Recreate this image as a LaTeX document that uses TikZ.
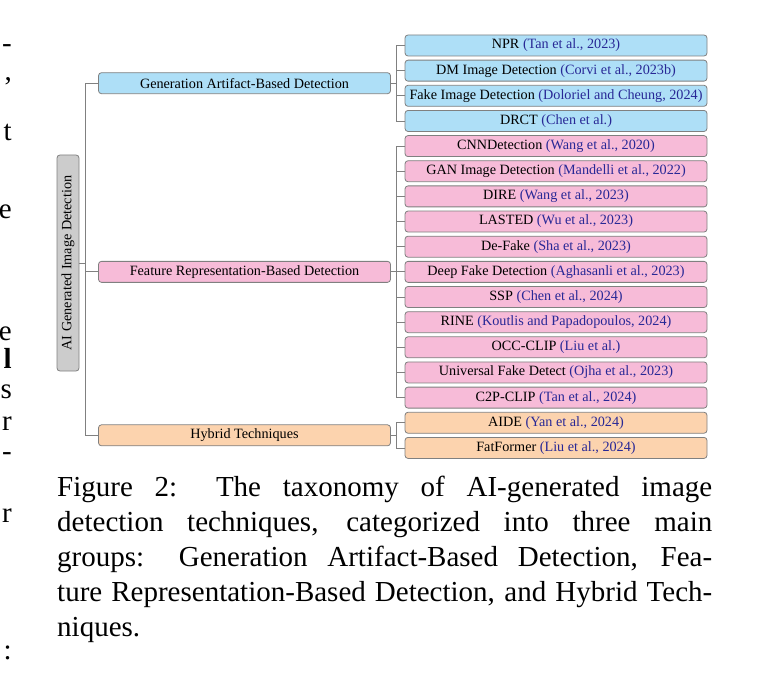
\documentclass[tikz,border=0pt]{standalone}
\usepackage{fontspec}
\setmainfont{Liberation Serif}
\usetikzlibrary{positioning}

\definecolor{catblue}{RGB}{174,223,247}
\definecolor{catpink}{RGB}{247,187,216}
\definecolor{catorange}{RGB}{252,211,174}
\definecolor{rootgray}{RGB}{204,204,204}
\definecolor{bordergray}{RGB}{128,128,128}
\definecolor{citeblue}{RGB}{40,40,150}

\newcommand{\refcite}[1]{\textcolor{citeblue}{(#1)}}

\begin{document}
\begin{tikzpicture}[x=1pt, y=-1pt,
    box/.style={draw=bordergray, line width=0.8pt, rounded corners=3pt, minimum height=21pt,
        inner xsep=1pt, inner ysep=0pt, font=\rmfamily\fontsize{14.2}{17}\selectfont},
    branch/.style={box, minimum width=292pt},
    leaf/.style={box, minimum width=302pt},
    link/.style={draw=bordergray, line width=0.8pt},
    bigtext/.style={inner sep=0pt, font=\rmfamily\fontsize{29}{35}\selectfont}]
\useasboundingbox (0,0) rectangle (767,676);

% neighbouring column, cut off at the left edge
\foreach \ch/\yy [count=\k] in {-/50, {,}/78, t/138, e/216, e/338, \textbf{l}/366,
        s/396, r/428, -/458, r/520, :/657}
    \node[bigtext, anchor=mid east] (frag\k) at (12,\yy) {\ch};

% root and the three groups
\node[box, fill=rootgray, rotate=90, minimum width=216pt, minimum height=22pt] (root) at (68,263) {AI Generated Image Detection};
\node[branch, fill=catblue] (gen) at (244.5,83.2) {Generation Artifact-Based Detection};
\node[branch, fill=catpink] (feat) at (244.5,271.85) {Feature Representation-Based Detection};
\node[branch, fill=catorange] (hyb) at (244.5,435.3) {Hybrid Techniques};

% methods
\foreach \name/\lbl/\col [count=\i] in {
        npr/{NPR \refcite{Tan et al., 2023}}/catblue,
        dm/{DM Image Detection \refcite{Corvi et al., 2023b}}/catblue,
        fake/{Fake Image Detection \refcite{Doloriel and Cheung, 2024}}/catblue,
        drct/{DRCT \refcite{Chen et al.}}/catblue,
        cnn/{CNNDetection \refcite{Wang et al., 2020}}/catpink,
        gan/{GAN Image Detection \refcite{Mandelli et al., 2022}}/catpink,
        dire/{DIRE \refcite{Wang et al., 2023}}/catpink,
        lasted/{LASTED \refcite{Wu et al., 2023}}/catpink,
        defake/{De-Fake \refcite{Sha et al., 2023}}/catpink,
        deep/{Deep Fake Detection \refcite{Aghasanli et al., 2023}}/catpink,
        ssp/{SSP \refcite{Chen et al., 2024}}/catpink,
        rine/{RINE \refcite{Koutlis and Papadopoulos, 2024}}/catpink,
        occ/{OCC-CLIP \refcite{Liu et al.}}/catpink,
        univ/{Universal Fake Detect \refcite{Ojha et al., 2023}}/catpink,
        ctwop/{C2P-CLIP \refcite{Tan et al., 2024}}/catpink,
        aide/{AIDE \refcite{Yan et al., 2024}}/catorange,
        fat/{FatFormer \refcite{Liu et al., 2024}}/catorange}
    \node[leaf, fill=\col] (\name) at (556,{45.5+25.15*(\i-1)}) {\lbl};

% connectors
\foreach \c in {gen,feat,hyb}
    \draw[link] (root.south) -- ++(5.5,0) |- (\c.west);
\foreach \p/\c in {gen/npr, gen/dm, gen/fake, gen/drct,
        feat/cnn, feat/gan, feat/dire, feat/lasted, feat/defake, feat/deep,
        feat/ssp, feat/rine, feat/occ, feat/univ, feat/ctwop,
        hyb/aide, hyb/fat}
    \draw[link] (\p.east) -- ++(5.5,0) |- (\c.west);

% caption
\node[bigtext, anchor=north west, text width=655pt, align=justify] (caption) at (57,476)
    {Figure 2:  The taxonomy of AI-generated image\linebreak
    detection techniques, categorized into three main\linebreak
    groups:  Generation Artifact-Based Detection, Fea-\linebreak
    ture Representation-Based Detection, and Hybrid Tech-\linebreak
    niques.};
\end{tikzpicture}
\end{document}
